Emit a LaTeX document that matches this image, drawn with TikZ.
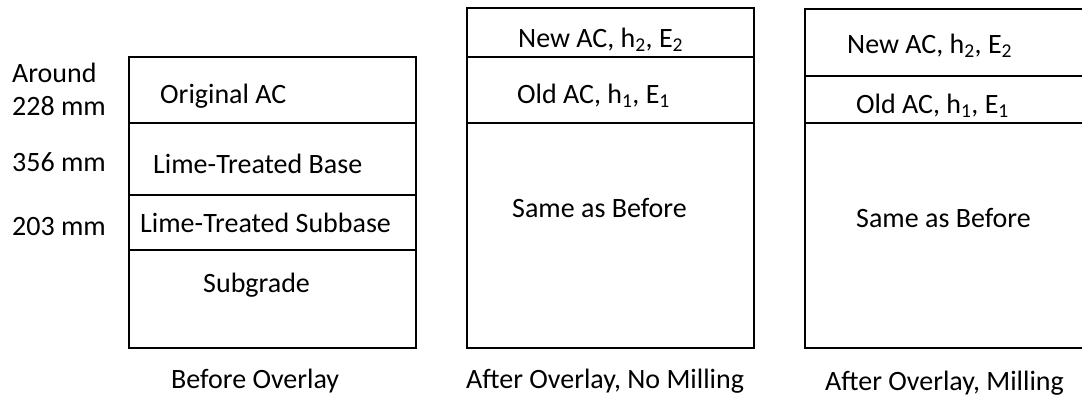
\documentclass[tikz,border=0pt]{standalone}
\usepackage{fontspec}
\setmainfont{Carlito}
\begin{document}
\begin{tikzpicture}[x=1pt,y=-1pt,
  outline/.style={draw=black,line width=2.8pt},
  layerline/.style={draw=black,line width=2pt},
  lbl/.style={anchor=base west,inner sep=0pt,font=\fontsize{28}{34}\selectfont}]
\useasboundingbox (0,0) rectangle (1082,399);
\clip (0,0) rectangle (1082,399);

% ---- Before overlay ----
\draw[outline] (129,57) rectangle (416,348);
\draw[layerline] (129,123) -- (416,123);
\draw[layerline] (129,195) -- (416,195);
\draw[layerline] (129,250) -- (416,250);
\node[lbl] (around) at (12,82) {Around};
\node[lbl] (d228) at (12,115) {228 mm};
\node[lbl] (d356) at (12,171) {356 mm};
\node[lbl] (d203) at (12,235) {203 mm};
\node[lbl] (origac) at (160,103) {Original AC};
\node[lbl] (ltbase) at (153,173) {Lime-Treated Base};
\node[lbl] (ltsub) at (140,232) {Lime-Treated Subbase};
\node[lbl] (subgr) at (203,292) {Subgrade};
\node[lbl] (cap1) at (171,388) {Before Overlay};

% ---- After overlay, no milling ----
\draw[outline] (467,8) rectangle (754,348);
\draw[layerline] (467,57) -- (754,57);
\draw[layerline] (467,123) -- (754,123);
\node[lbl] (newac2) at (518,47) {New AC, h\textsubscript{2}, E\textsubscript{2}};
\node[lbl] (oldac2) at (517,103) {Old AC, h\textsubscript{1}, E\textsubscript{1}};
\node[lbl] (same2) at (512,217) {Same as Before};
\node[lbl] (cap2) at (466,388) {After Overlay, No Milling};

% ---- After overlay, milling ----
\draw[outline] (805,9) rectangle (1095,348);
\draw[layerline] (805,76) -- (1095,76);
\draw[layerline] (805,123) -- (1095,123);
\node[lbl] (newac3) at (847,53) {New AC, h\textsubscript{2}, E\textsubscript{2}};
\node[lbl] (oldac3) at (856,113) {Old AC, h\textsubscript{1}, E\textsubscript{1}};
\node[lbl] (same3) at (856,227) {Same as Before};
\node[lbl] (cap3) at (825,390) {After Overlay, Milling};
\end{tikzpicture}
\end{document}
